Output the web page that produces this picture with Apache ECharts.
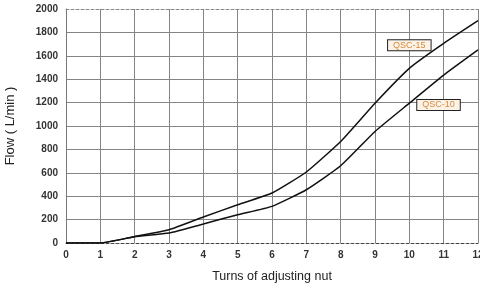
<!DOCTYPE html>
<html><head><meta charset="utf-8">
<script src="https://cdn.jsdelivr.net/npm/echarts@6/dist/echarts.min.js"></script>
<style>html,body{margin:0;padding:0;background:#fff}#c{width:480px;height:283px}</style>
</head><body><div id="c"></div>
<script>
const turns = [0,1,2,3,4,5,6,7,8,9,10,11,12];
const qsc15 = [0,0,56,113,222,327,427,607,868,1195,1493,1706,1900];
const qsc10 = [0,0,53,85,162,242,313,455,660,953,1195,1435,1650];
const seriesNames = ['QSC-15','QSC-10'];
const labelPos = [[10.0,1691],[10.85,1180]];

const chart = echarts.init(document.getElementById('c'));
const font = 'Liberation Sans, Arial, sans-serif';
function mk(name, vals, pos){
  return {
    name, type:'line', data: turns.map((t,i)=>[t, vals[i]]),
    symbol:'none', smooth:0.15,
    lineStyle:{color:'#111', width:1.5},
    markPoint:{symbol:'rect', symbolSize:1, itemStyle:{color:'transparent'},
      data:[{coord:pos, label:{show:true, formatter:name, position:'inside',
        color:'#d98a3c', fontSize:9, fontFamily:font,
        backgroundColor:'#fbf3e8', borderColor:'#222', borderWidth:1, padding:[1,5,0,5]}}]},
    z:5
  };
}
chart.setOption({
  animation:false,
  grid:{left:66, right:2, top:9, bottom:40, containLabel:false, outerBoundsMode:'none'},
  xAxis:[{
    type:'value', min:0, max:12, interval:1, position:'bottom',
    name:'Turns of adjusting nut', nameLocation:'middle', nameGap:27,
    nameTextStyle:{color:'#222', fontSize:12.5, fontFamily:font},
    axisLine:{show:true, lineStyle:{color:'#444', type:[3,2], width:1}},
    axisTick:{show:false},
    axisLabel:{color:'#333', fontSize:10, fontWeight:'bold', fontFamily:font, margin:7},
    splitLine:{show:true, lineStyle:{color:'#858585', width:1}}
  },{
    type:'value', min:0, max:12, position:'top',
    axisLine:{show:true, lineStyle:{color:'#888', type:[3,2], width:1}},
    axisTick:{show:false}, axisLabel:{show:false}, splitLine:{show:false}
  }],
  yAxis:{
    type:'value', min:0, max:2000, interval:200,
    name:'Flow ( L/min )', nameLocation:'middle', nameGap:49,
    nameTextStyle:{color:'#222', fontSize:13, fontFamily:font},
    axisLine:{show:true, lineStyle:{color:'#777', width:1}},
    axisTick:{show:false},
    axisLabel:{color:'#333', fontSize:10, fontWeight:'bold', fontFamily:font, margin:8,
      formatter: v => String(v)},
    splitLine:{show:true, showMinLine:false, showMaxLine:false, lineStyle:{color:'#858585', width:1}}
  },
  series:[mk(seriesNames[0], qsc15, labelPos[0]), mk(seriesNames[1], qsc10, labelPos[1])]
});
</script></body></html>
